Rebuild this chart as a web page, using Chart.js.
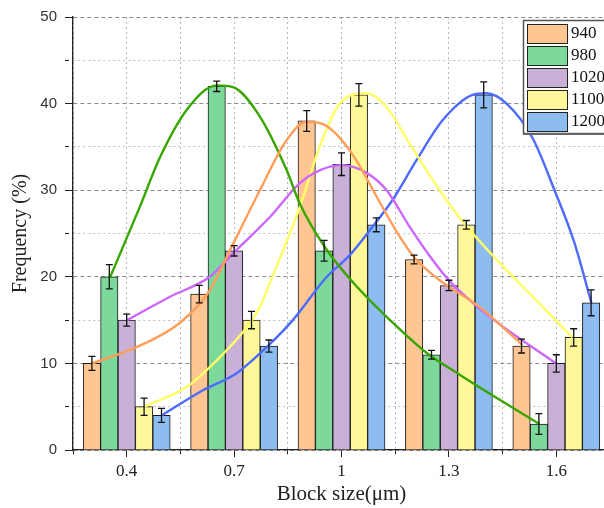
<!DOCTYPE html>
<html>
<head>
<meta charset="utf-8">
<script src="https://cdn.jsdelivr.net/npm/chart.js@4.4.1/dist/chart.umd.min.js"></script>
<style>
html, body { margin: 0; padding: 0; background: #fff; overflow: hidden; }
#wrap { width: 604px; height: 508px; overflow: hidden; }
</style>
</head>
<body>
<div id="wrap"><canvas id="sizeChart" width="610" height="508"></canvas></div>
<script>
// block size groups and the five series
var categories = [0.4, 0.7, 1, 1.3, 1.6];
var seriesNames = ['940', '980', '1020', '1100', '1200'];

var freq940 = [10, 18, 38, 22, 12];
var freq980 = [20, 42, 23, 11, 3];
var freq1020 = [15, 23, 33, 19, 10];
var freq1100 = [5, 15, 41, 26, 13];
var freq1200 = [4, 12, 26, 41, 17];

var err940 = [0.8, 1.0, 1.2, 0.5, 0.8];
var err980 = [1.4, 0.6, 1.2, 0.5, 1.2];
var err1020 = [0.7, 0.6, 1.3, 0.6, 1.0];
var err1100 = [1.0, 1.0, 1.3, 0.5, 1.0];
var err1200 = [0.8, 0.7, 0.8, 1.5, 1.5];

// fitted curves as [block size, frequency]
var fit940 = [[0.303, 10], [0.429, 11.9], [0.549, 14.7], [0.63, 18.3], [0.69, 23.2], [0.772, 30], [0.847, 35.8],
  [0.903, 37.9], [0.95, 37.6], [1.023, 34.6], [1.115, 28], [1.163, 24.6], [1.204, 22.2], [1.274, 19.6], [1.386, 16.5], [1.506, 12.1]];
var fit980 = [[0.353, 19.9], [0.437, 28.1], [0.493, 33.8], [0.568, 39.3], [0.652, 42.1], [0.697, 41.9], [0.772, 38.5],
  [0.847, 32.3], [0.883, 28.5], [0.959, 23.1], [1.051, 18.5], [1.143, 14.7], [1.238, 11.2], [1.33, 8.7], [1.442, 5.8], [1.553, 3]];
var fit1020 = [[0.401, 15], [0.521, 17.7], [0.632, 20], [0.697, 22.7], [0.8, 26.9], [0.883, 30.8], [0.939, 32.3], [1.003, 32.9],
  [1.07, 32], [1.126, 30], [1.19, 25.8], [1.25, 22.2], [1.302, 19.5], [1.414, 15.4], [1.599, 10]];
var fit1100 = [[0.45, 5], [0.568, 7.3], [0.66, 10.7], [0.736, 14.2], [0.772, 16.5], [0.8, 19.3], [0.883, 28], [0.939, 35],
  [0.995, 40], [1.07, 41.2], [1.126, 39.6], [1.19, 35.4], [1.274, 30], [1.35, 25.8], [1.442, 21.6], [1.534, 17.7], [1.645, 13]];
var fit1200 = [[0.498, 4], [0.613, 6.9], [0.708, 8.9], [0.794, 12], [0.864, 15], [0.959, 20], [1.023, 22.5], [1.087, 25.8],
  [1.143, 28.9], [1.21, 33.5], [1.283, 38.1], [1.366, 41], [1.405, 41.2], [1.461, 40], [1.534, 36], [1.595, 30], [1.65, 24], [1.698, 17]];

var xTickValues = [0.25, 0.4, 0.55, 0.7, 0.85, 1, 1.15, 1.3, 1.45, 1.6, 1.75];
var xTickLabels = ['0.4', '0.7', '1', '1.3', '1.6'];

var values = [freq940, freq980, freq1020, freq1100, freq1200];
var errors = [err940, err980, err1020, err1100, err1200];
var fits = [fit940, fit980, fit1020, fit1100, fit1200];

var barColors = ['#FFC592', '#7DD99B', '#C9B0D7', '#FFF89A', '#8DBCF0'];
var curveColors = ['#FF9E5A', '#38A600', '#CC66FF', '#FFFF66', '#4D6BFF'];

var serif = "'Liberation Serif', 'Times New Roman', serif";
Chart.defaults.font.family = serif;

function xLabel(v) {
    var i = categories.indexOf(v);
    return i >= 0 ? xTickLabels[i] : '';
}

var errorBars = {
    id: 'errorBars',
    afterDatasetsDraw: function (chart) {
        var ctx = chart.ctx;
        var y = chart.scales.y;
        ctx.save();
        ctx.strokeStyle = '#111';
        ctx.lineWidth = 1.3;
        chart.data.datasets.forEach(function (ds, i) {
            if (!ds.errors) return;
            var meta = chart.getDatasetMeta(i);
            meta.data.forEach(function (bar, j) {
                var v = ds.data[j].y;
                var top = y.getPixelForValue(v + ds.errors[j]);
                var bot = y.getPixelForValue(v - ds.errors[j]);
                ctx.beginPath();
                ctx.moveTo(bar.x, top); ctx.lineTo(bar.x, bot);
                ctx.moveTo(bar.x - 3.5, top); ctx.lineTo(bar.x + 3.5, top);
                ctx.moveTo(bar.x - 3.5, bot); ctx.lineTo(bar.x + 3.5, bot);
                ctx.stroke();
            });
        });
        ctx.restore();
    }
};

var legendBox = {
    id: 'legendBox',
    afterDraw: function (chart) {
        var ctx = chart.ctx;
        ctx.save();
        ctx.fillStyle = '#fff';
        ctx.fillRect(523, 20, 95, 114);
        ctx.strokeStyle = '#555';
        ctx.lineWidth = 1.5;
        ctx.strokeRect(523.5, 20.5, 95, 113);
        ctx.fillStyle = '#666';
        ctx.fillRect(523, 133, 95, 2);
        ctx.font = '17px ' + serif;
        ctx.textBaseline = 'middle';
        seriesNames.forEach(function (name, i) {
            var top = 24 + i * 22;
            ctx.fillStyle = barColors[i];
            ctx.fillRect(527, top, 40, 19);
            ctx.strokeStyle = '#222';
            ctx.lineWidth = 1;
            ctx.strokeRect(527.5, top + 0.5, 40, 19);
            ctx.fillStyle = '#111';
            ctx.fillText(name, 571, top + 10);
        });
        ctx.restore();
    }
};

var datasets = [];
seriesNames.forEach(function (name, i) {
    datasets.push({
        type: 'bar',
        label: name,
        data: categories.map(function (c, j) { return { x: c, y: values[i][j] }; }),
        errors: errors[i],
        backgroundColor: barColors[i],
        borderColor: '#1a1a1a',
        borderWidth: 1,
        barThickness: 17.4,
        grouped: true,
        order: 1
    });
});
seriesNames.forEach(function (name, i) {
    datasets.push({
        type: 'line',
        label: name + ' fit',
        data: fits[i].map(function (p) { return { x: p[0], y: p[1] }; }),
        borderColor: curveColors[i],
        borderWidth: 2.4,
        pointRadius: 0,
        cubicInterpolationMode: 'monotone',
        fill: false,
        grouped: false,
        order: 0
    });
});

var ctx = document.getElementById('sizeChart').getContext('2d');
var sizeChart = new Chart(ctx, {
    type: 'bar',
    data: { datasets: datasets },
    plugins: [errorBars, legendBox],
    options: {
        responsive: false,
        animation: false,
        layout: { padding: { top: 17, right: 0, left: 0, bottom: 0 } },
        plugins: { legend: { display: false }, tooltip: { enabled: false } },
        scales: {
            x: {
                type: 'linear',
                position: 'bottom',
                min: 0.25,
                max: 1.75,
                offset: false,
                afterBuildTicks: function (axis) {
                    axis.ticks = xTickValues.map(function (v) { return { value: v }; });
                },
                afterFit: function (s) { s.height = 58; s.paddingLeft = 0; s.paddingRight = 0; },
                ticks: { callback: xLabel, font: { size: 17 }, color: '#222', padding: 4, maxRotation: 0, autoSkip: false },
                grid: {
                    offset: false,
                    color: '#b5b5b5',
                    tickColor: '#222',
                    tickLength: 7,
                    tickBorderDash: function (c) { return categories.indexOf(c.tick.value) >= 0 ? [] : [4, 100]; }
                },
                border: { color: '#222', width: 1.3, dash: [2, 3] },
                title: { display: true, text: 'Block size(μm)', font: { size: 21 }, color: '#222', padding: { top: 0, bottom: 1 } }
            },
            y: {
                min: 0,
                max: 50,
                afterFit: function (s) { s.width = 73; },
                ticks: {
                    stepSize: 5,
                    callback: function (v) { return v % 10 === 0 ? String(v) : ''; },
                    font: { size: 15, family: "'Liberation Sans', Arial, sans-serif" },
                    color: '#333',
                    padding: 8
                },
                grid: {
                    color: function (c) { return c.tick && c.tick.value % 10 === 0 ? '#8c8c8c' : '#c0c0c0'; },
                    tickColor: '#222',
                    tickLength: 8,
                    tickBorderDash: function (c) { return c.tick.value % 10 === 0 ? [] : [4, 100]; }
                },
                border: {
                    color: '#222',
                    width: 1.3,
                    dash: function (c) { return c.tick && c.tick.value % 10 === 0 ? [4, 3] : [2, 3]; }
                },
                title: { display: true, text: 'Frequency (%)', font: { size: 20 }, color: '#222', padding: { top: 9, bottom: 0 } }
            }
        }
    }
});
</script>
</body>
</html>
